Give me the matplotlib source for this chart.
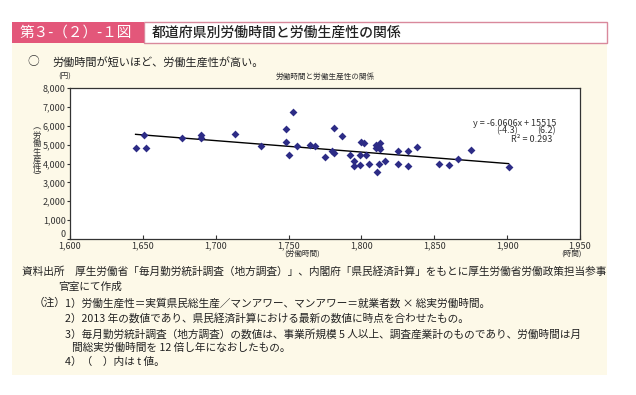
import numpy as np
import matplotlib
matplotlib.use("Agg")
import matplotlib.pyplot as plt
from matplotlib.patches import Rectangle
from matplotlib.ticker import FuncFormatter

plt.rcParams['font.family'] = ['Noto Sans CJK JP', 'DejaVu Sans']

# 都道府県別 年間総実労働時間 (時間) と 労働生産性 (円)
hours = [1645, 1651, 1652, 1677, 1690, 1690, 1713, 1731, 1748, 1753,
         1748, 1750, 1756, 1765, 1768, 1775, 1780, 1781, 1781, 1787,
         1792, 1795, 1795, 1799, 1799, 1800, 1802, 1803, 1805, 1810,
         1811, 1810, 1812, 1813, 1813, 1812, 1816, 1825, 1825, 1832,
         1832, 1838, 1853, 1860, 1866, 1875, 1901]
productivity = [4820, 5530, 4800, 5350, 5530, 5340, 5550, 4950, 5830, 6730,
                5120, 4450, 4910, 4960, 4940, 4350, 4680, 5870, 4580, 5460,
                4430, 4120, 3890, 4450, 3900, 5120, 5090, 4430, 3990, 5000,
                3530, 4820, 3990, 5090, 4780, 4900, 4120, 3990, 4680, 4680,
                3890, 4880, 3960, 3920, 4240, 4720, 3820]

slope = -6.0606
intercept = 15515

x_ticks = [1600, 1650, 1700, 1750, 1800, 1850, 1900, 1950]
y_ticks = [0, 1000, 2000, 3000, 4000, 5000, 6000, 7000, 8000]

W, H = 636, 395
fig = plt.figure(figsize=(W / 100, H / 100), dpi=100)
fig.patch.set_facecolor('white')


def box(x0, y0, x1, y1, **kw):
    fig.patches.append(Rectangle((x0 / W, 1 - y1 / H), (x1 - x0) / W, (y1 - y0) / H,
                                 transform=fig.transFigure, figure=fig, zorder=-5, **kw))


def txt(x, y, s, **kw):
    fig.text(x / W, 1 - y / H, s, **kw)


# background panels
box(12, 43, 607, 375, facecolor='#fdf9e8', edgecolor='none')
box(144, 22, 607, 43, facecolor='white', edgecolor='#d9899c', linewidth=1)
box(12, 22, 144, 43, facecolor='#e3577a', edgecolor='none')

txt(20, 33, '第３-（２）-１図', color='white', fontsize=10.5, va='center')
txt(152, 33, '都道府県別労働時間と労働生産性の関係', color='#222222', fontsize=10,
    va='center', fontweight='medium')
txt(27, 62, '○', color='#333333', fontsize=8.5, va='center')
txt(52, 62, '労働時間が短いほど、労働生産性が高い。', color='#222222', fontsize=8, va='center')

# chart
ax = fig.add_axes([70 / W, 1 - 239 / H, (580 - 70) / W, (239 - 88) / H])
ax.set_facecolor('white')
ax.scatter(hours, productivity, marker='D', s=16, color='#2d2c86', zorder=3, linewidths=0)
xs = np.array([min(hours), max(hours)])
ax.plot(xs, slope * xs + intercept, color='black', linewidth=1, zorder=2)

ax.set_xlim(1600, 1950)
ax.set_ylim(0, 8000)
ax.set_xticks(x_ticks)
ax.set_yticks(y_ticks)
fmt = FuncFormatter(lambda v, p: f'{int(v):,}')
ax.xaxis.set_major_formatter(fmt)
ax.yaxis.set_major_formatter(fmt)
ax.tick_params(axis='x', direction='in', length=3, labelsize=6.5, colors='#333333', pad=2)
ax.tick_params(axis='y', direction='out', length=2, labelsize=6.5, colors='#333333', pad=1)
ax.get_yticklabels()[0].set_va('bottom')
for sp in ax.spines.values():
    sp.set_color('#333333')
    sp.set_linewidth(0.9)

txt(58, 77, '(円)', fontsize=5.5, color='#333333', va='center')
txt(325, 77, '労働時間と労働生産性の関係', fontsize=5.5, color='#333333', va='center', ha='center')
txt(37, 152, '︵\n労\n働\n生\n産\n性\n︶', fontsize=6, color='#333333', va='center',
    ha='center', linespacing=0.9)
txt(302, 254, '(労働時間)', fontsize=5.5, color='#333333', va='center', ha='center')
txt(572, 254, '(時間)', fontsize=5.5, color='#333333', va='center', ha='center')

txt(556, 123, 'y = -6.0606x + 15515', fontsize=6.5, color='#333333', va='center', ha='right')
txt(507, 131, '(-4.3)', fontsize=6.5, color='#333333', va='center', ha='center')
txt(546, 131, '(6.2)', fontsize=6.5, color='#333333', va='center', ha='center')
txt(532, 139, 'R² = 0.293', fontsize=6.5, color='#333333', va='center', ha='center')

# notes
nfs = 7.7
ncol = '#222222'
txt(22, 272, '資料出所　厚生労働省「毎月勤労統計調査（地方調査）」、内閣府「県民経済計算」をもとに厚生労働省労働政策担当参事',
    fontsize=nfs, color=ncol, va='center')
txt(58, 287, '官室にて作成', fontsize=nfs, color=ncol, va='center')
txt(34, 303, '（注）', fontsize=nfs, color=ncol, va='center')
txt(65, 303, '1）労働生産性＝実質県民総生産／マンアワー、マンアワー＝就業者数 × 総実労働時間。',
    fontsize=nfs, color=ncol, va='center')
txt(65, 318, '2）2013 年の数値であり、県民経済計算における最新の数値に時点を合わせたもの。',
    fontsize=nfs, color=ncol, va='center')
txt(65, 334, '3）毎月勤労統計調査（地方調査）の数値は、事業所規模 5 人以上、調査産業計のものであり、労働時間は月',
    fontsize=nfs, color=ncol, va='center')
txt(72, 348, '間総実労働時間を 12 倍し年になおしたもの。', fontsize=nfs, color=ncol, va='center')
txt(65, 362, '4）（　）内は t 値。', fontsize=nfs, color=ncol, va='center')

fig.savefig('out.png', dpi=100, facecolor=fig.get_facecolor())
